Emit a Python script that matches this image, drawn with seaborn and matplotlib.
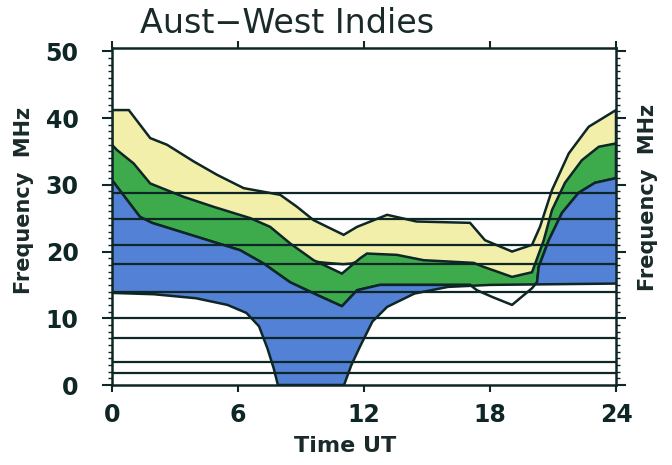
import numpy as np
import matplotlib
matplotlib.use("Agg")
import matplotlib.pyplot as plt
import seaborn as sns

# curves: hour (UT) and frequency (MHz)
upper_hours = [0, 0.8, 1.82, 2.62, 3.89, 5.0, 6.27, 8.01, 8.81, 9.6, 11.03, 11.67, 13.1, 14.5,
               17.05, 17.76, 19.05, 20.0, 20.38, 20.95, 21.75, 22.7, 24]
upper_mhz = [41.2, 41.2, 37.0, 36.0, 33.5, 31.5, 29.5, 28.5, 26.7, 24.7, 22.5, 23.7, 25.5, 24.5,
             24.3, 21.7, 20.0, 21.0, 23.7, 29.2, 34.7, 38.7, 41.2]

yellow_low_hours = [0, 1.03, 1.82, 3.41, 4.84, 6.59, 7.53, 8.49, 9.6, 10.2, 11.0, 11.4, 11.82,
                    12.14, 13.57, 14.84, 17.22, 17.7, 19.05, 20.0, 20.56, 20.95, 21.57, 22.38, 23.18, 24]
yellow_low_mhz = [35.6, 32.8, 29.8, 27.8, 26.3, 24.6, 23.3, 20.8, 18.5, 18.3, 18.1, 18.2, 18.6,
                  19.3, 19.1, 18.3, 17.9, 17.3, 15.8, 16.5, 21.3, 25.8, 29.9, 33.3, 35.3, 35.8]

median_hours = [0, 0.24, 1.03, 1.82, 3.41, 4.84, 6.59, 7.53, 8.49, 9.6, 10.95, 11.82, 12.14, 13.57,
                14.84, 17.22, 17.7, 19.05, 20.0, 20.56, 20.95, 21.57, 22.38, 23.18, 24]
median_mhz = [36.0, 35.2, 33.2, 30.2, 28.2, 26.7, 25.0, 23.7, 21.2, 18.7, 16.7, 19.0, 19.7, 19.5,
              18.7, 18.3, 17.7, 16.2, 16.9, 21.7, 26.2, 30.3, 33.7, 35.7, 36.2]

lower_hours = [0, 1.33, 1.9, 4.05, 6.1, 7.22, 8.48, 9.76, 10.95, 11.67, 12.76, 15.14, 17.05, 17.38,
               18.1, 19.05, 20.0, 20.24, 20.32, 20.8, 21.43, 22.22, 23.0, 24]
lower_mhz = [30.7, 25.2, 24.3, 22.2, 20.2, 18.2, 15.4, 13.5, 11.8, 14.2, 15.0, 15.0, 15.0, 14.2,
             13.2, 12.0, 14.5, 15.4, 17.7, 21.7, 25.8, 28.8, 30.3, 31.0]

luf_hours = [0, 2, 4, 5.5, 6.4, 7.0, 7.4, 7.7, 7.9, 11.05, 11.4, 11.8, 12.4, 13.1, 14.4, 16, 18, 24]
luf_mhz = [13.8, 13.6, 13.0, 12.0, 10.8, 8.8, 5.5, 2.5, 0, 0, 3.0, 5.7, 9.5, 11.7, 13.7, 14.7, 15.0, 15.2]

# amateur band lines
bands_mhz = [1.8, 3.5, 7.0, 10.1, 14.0, 18.1, 21.0, 24.9, 28.8]

x_ticks = [0, 6, 12, 18, 24]

YELLOW = "#F2EFAA"
GREEN = "#3DAA4C"
BLUE = "#5281D6"
INK = "#0E2626"
TEXT = "#1a2a2a"

sns.set_style("ticks")
plt.rcParams["font.family"] = ["DejaVu Sans"]

fig = plt.figure(figsize=(6.72, 4.65), dpi=100)
ax = fig.add_axes([112 / 672, 1 - 385 / 465, 504 / 672, 337 / 465])


def band_polygon(top_h, top_v, bot_h, bot_v):
    xs = np.concatenate([top_h, bot_h[::-1]])
    ys = np.concatenate([top_v, bot_v[::-1]])
    return xs, ys


# yellow band
xs, ys = band_polygon(np.array(upper_hours), np.array(upper_mhz),
                      np.array(yellow_low_hours), np.array(yellow_low_mhz))
ax.fill(xs, ys, facecolor=YELLOW, edgecolor=INK, linewidth=1.8, zorder=1)

# green band
xs, ys = band_polygon(np.array(median_hours), np.array(median_mhz),
                      np.array(lower_hours), np.array(lower_mhz))
ax.fill(xs, ys, facecolor=GREEN, edgecolor=INK, linewidth=1.8, zorder=2)

# blue band down to the floor, then blank out everything under the LUF
ax.fill(lower_hours + [24, 0], lower_mhz + [0, 0], facecolor=BLUE, edgecolor="none", zorder=3)
ax.fill(luf_hours + [24, 0], luf_mhz + [0, 0], facecolor="white", edgecolor="none", zorder=4)

sns.lineplot(x=lower_hours, y=lower_mhz, sort=False, color=INK, linewidth=1.8, ax=ax, zorder=5)
sns.lineplot(x=luf_hours, y=luf_mhz, sort=False, color=INK, linewidth=1.8, ax=ax, zorder=5)

for f in bands_mhz:
    ax.axhline(f, color=INK, linewidth=1.6, zorder=6)

ax.set_xlim(0, 24)
ax.set_ylim(0, 50.5)
ax.set_xticks(x_ticks)
ax.set_yticks(np.arange(0, 51, 10))
ax.set_yticks(np.arange(0, 51, 1), minor=True)
ax.tick_params(axis="x", which="major", direction="out", length=5, width=1.5,
               top=True, labeltop=False, labelsize=17, pad=8, colors=INK)
ax.tick_params(axis="y", which="major", direction="out", length=7, width=1.5,
               right=True, labelright=False, labelsize=17, pad=17, colors=INK)
ax.tick_params(axis="y", which="minor", direction="out", length=3, width=1.0,
               left=True, right=True, colors=INK)
for lab in ax.get_xticklabels() + ax.get_yticklabels():
    lab.set_fontweight("bold")
for sp in ax.spines.values():
    sp.set_visible(True)
    sp.set_linewidth(1.8)
    sp.set_color(INK)
    sp.set_zorder(7)

fig.text(140 / 672, 1 - 33 / 465, "Aust\u2212West Indies", fontsize=24, color=TEXT,
         ha="left", va="baseline")
fig.text(345 / 672, 1 - 446 / 465, "Time UT", fontsize=16, fontweight="bold", color=TEXT,
         ha="center", va="center")
fig.text(24 / 672, 1 - 200 / 465, "Frequency  MHz", fontsize=15, fontweight="bold", color=TEXT,
         rotation=90, ha="center", va="center")
fig.text(648 / 672, 1 - 197 / 465, "Frequency  MHz", fontsize=15, fontweight="bold", color=TEXT,
         rotation=90, ha="center", va="center")

fig.savefig("out.png", dpi=100)
